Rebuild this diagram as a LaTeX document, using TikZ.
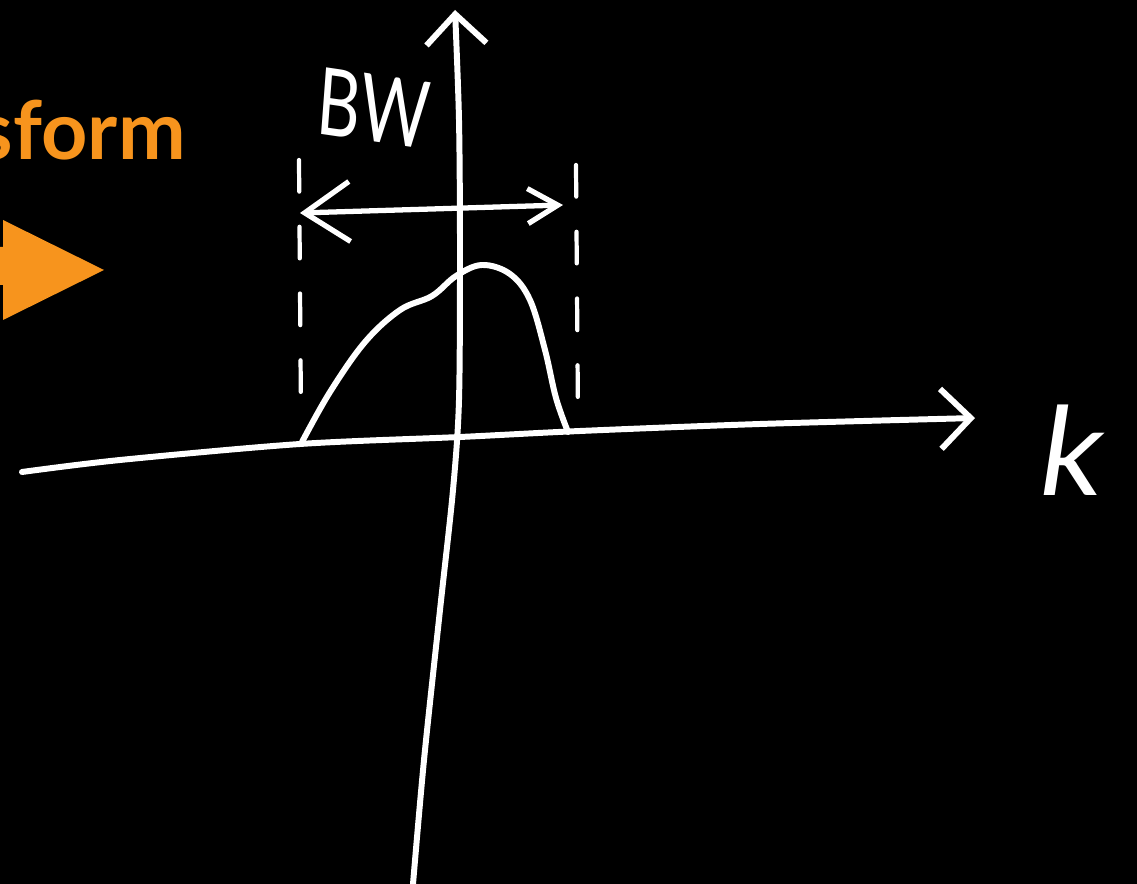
\documentclass[tikz,border=0pt]{standalone}
\usepackage{fontspec}
\setmainfont{Lato}
\usetikzlibrary{arrows.meta}
\definecolor{slideorange}{RGB}{247,148,29}
\tikzset{
  chalk/.style={white, line width=3.4pt, line cap=round, line join=round},
  chalkarr/.style={chalk, -{Straight Barb[length=6mm, width=12mm, line width=3.4pt]}},
  bwarr/.style={chalk, line width=3pt,
      {Straight Barb[length=9mm, width=12mm, line width=3pt]}-{Straight Barb[length=6mm, width=7mm, line width=3pt]}},
  edge/.style={white, line width=2.4pt, line cap=round, dash pattern=on 18pt off 20pt},
  chalktxt/.style={text=white, inner sep=0pt},
}
\begin{document}
\begin{tikzpicture}[x=0.02cm, y=-0.02cm]
    \fill[black] (0,0) rectangle (1137,884);
    \useasboundingbox (0,0) rectangle (1137,884);
    % title and block arrow
    \node[anchor=base east, text=slideorange, font=\fontsize{46}{52}\selectfont\bfseries, inner sep=0pt] (title) at (186,160) {sform};
    \fill[slideorange] (-10,247) -- (3,247) -- (3,220) -- (104,270) -- (3,320) -- (3,285) -- (-10,285) -- cycle;
    % axes
    \draw[chalkarr] plot[smooth] coordinates {(413,884) (424,760) (440,610) (453,490) (459,400) (460,250) (459,120) (455,10)};
    \draw[chalkarr] plot[smooth] coordinates {(22,472) (120,460) (300,444) (460,437) (580,431) (760,424) (975,418)};
    % band edges
    \draw[edge] (299,160) -- (301,418);
    \draw[edge] (576,165) -- (578,418);
    % spectrum
    \draw[chalk] plot[smooth, tension=0.6] coordinates {(302,442) (330,392) (365,342) (400,310) (432,296) (456,276) (482,265) (510,274) (530,300) (545,350) (556,398) (568,432)};
    % bandwidth
    \draw[bwarr] (300,213) -- (563,205);
    \node[chalktxt, font=\fontsize{38}{44}\selectfont, yscale=1.4, rotate=-6] (bw) at (374,108) {BW};
    \node[chalktxt, font=\fontsize{70}{80}\selectfont, xslant=0.15] (k) at (1074,450) {k};
\end{tikzpicture}
\end{document}
